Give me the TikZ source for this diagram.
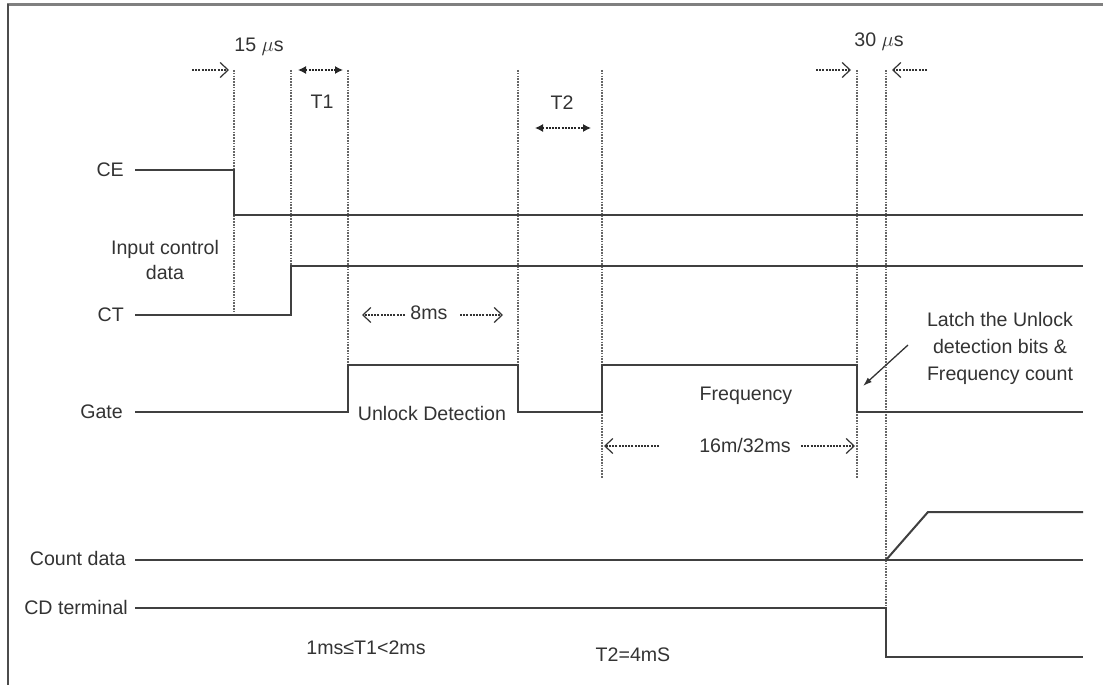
\documentclass[tikz,border=0pt]{standalone}
\usepackage{fontspec}
\setmainfont{Liberation Sans}
\usetikzlibrary{arrows.meta}
\begin{document}
\begin{tikzpicture}[x=1pt,y=-1pt,
  sig/.style={draw=black!75,line width=2pt},
  guide/.style={draw=black!60,line width=1.1pt,dash pattern=on 1.6pt off 1.2pt},
  dimarrow/.style={draw=black!80,line width=1.2pt,dash pattern=on 2pt off 1.2pt,-{Straight Barb[length=8pt,width=15pt,line width=1.2pt]}},
  dimboth/.style={draw=black!85,line width=1.2pt,dash pattern=on 2pt off 1.2pt,{Latex[length=8pt,width=8pt]}-{Latex[length=8pt,width=8pt]}},
  lbl/.style={text=black!80,font=\fontsize{19.6}{23}\selectfont,inner sep=0pt,align=center},
  sigl/.style={lbl,anchor=east}]
\useasboundingbox (0,0) rectangle (1103,685);
% frame
\draw[draw=black!50,line width=3pt] (7,5) -- (1103,5);
\draw[draw=black!70,line width=2pt] (8,4) -- (8,685);

% guide lines
\draw[guide] (234,70) -- (234,315);
\draw[guide] (291,70) -- (291,266);
\draw[guide] (348,70) -- (348,365);
\draw[guide] (518,70) -- (518,365);
\draw[guide] (602,70) -- (602,478);
\draw[guide] (857,70) -- (857,478);
\draw[guide] (886,70) -- (886,608);

% signals
\draw[sig] (135,170) -- (234,170) -- (234,215) -- (1083,215);
\draw[sig] (135,315) -- (291,315) -- (291,266) -- (1083,266);
\draw[sig] (135,412) -- (348,412) -- (348,365) -- (518,365) -- (518,412) -- (602,412) -- (602,365) -- (857,365) -- (857,412) -- (1083,412);
\draw[sig] (135,560) -- (1083,560);
\draw[sig] (886,560) -- (928,512) -- (1083,512);
\draw[sig] (135,608) -- (886,608) -- (886,657) -- (1083,657);

% signal labels
\node[sigl] (ce) at (124,170) {CE};
\node[sigl] (ct) at (124,315) {CT};
\node[sigl] (gate) at (123,412) {Gate};
\node[sigl] (cd) at (126,558) {Count data};
\node[sigl] (cdt) at (128,607) {CD terminal};
\node[lbl] (icd) at (165,260) {Input control\\[2pt]data};

% timing annotations
\node[lbl] (t15) at (259,47) {15 $\mu$s};
\coordinate (a15s) at (192,70); \coordinate (a15e) at (229,70);
\draw[dimarrow] (a15s) -- (a15e);
\coordinate (t1s) at (298,70); \coordinate (t1e) at (343,70);
\draw[dimboth] (t1s) -- (t1e);
\node[lbl] (t1) at (322,102) {T1};
\node[lbl] (t2) at (562,103) {T2};
\coordinate (t2s) at (535,128); \coordinate (t2e) at (591,128);
\draw[dimboth] (t2s) -- (t2e);
\node[lbl] (t30) at (879,42) {30 $\mu$s};
\coordinate (a30ls) at (816,70); \coordinate (a30le) at (851,70);
\coordinate (a30rs) at (927,70); \coordinate (a30re) at (892,70);
\draw[dimarrow] (a30ls) -- (a30le);
\draw[dimarrow] (a30rs) -- (a30re);

\node[lbl] (ms8) at (429,313) {8ms};
\coordinate (m8l) at (405,315); \coordinate (m8le) at (362,315);
\coordinate (m8r) at (460,315); \coordinate (m8re) at (503,315);
\draw[dimarrow] (m8l) -- (m8le);
\draw[dimarrow] (m8r) -- (m8re);

\node[lbl] (ud) at (432,413) {Unlock Detection};
\node[lbl] (freq) at (746,396) {Frequency};
\node[lbl] (m16) at (745,445) {16m/32ms};
\coordinate (f16l) at (659,446); \coordinate (f16le) at (604,446);
\coordinate (f16r) at (801,446); \coordinate (f16re) at (855,446);
\draw[dimarrow] (f16l) -- (f16le);
\draw[dimarrow] (f16r) -- (f16re);

\node[lbl] (latch) at (1000,348) {Latch the Unlock\\[4pt]detection bits \&\\[4pt]Frequency count};
\coordinate (la) at (908,345); \coordinate (lb) at (863,386);
\draw[draw=black!80,line width=1.3pt,-{Latex[length=9pt,width=6pt]}] (la) -- (lb);

\node[lbl] (t1c) at (366,648) {1ms≤T1<2ms};
\node[lbl] (t2c) at (633,655) {T2=4mS};
\end{tikzpicture}
\end{document}
